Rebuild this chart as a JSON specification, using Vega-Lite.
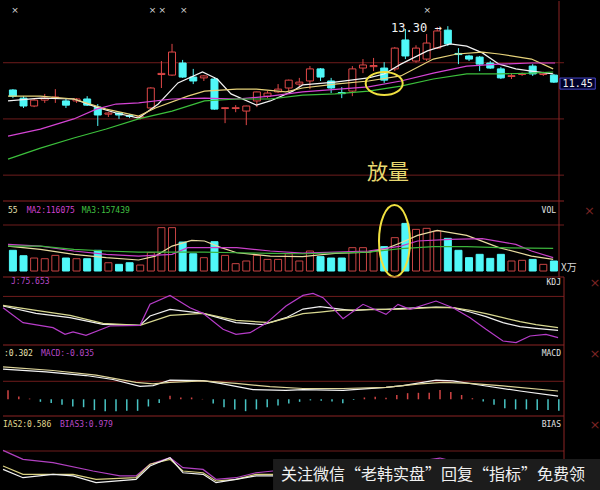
{
"$schema": "https://vega.github.io/schema/vega-lite/v6.json",
"background": "#000000",
"padding": 0,
"spacing": 0,
"bounds": "flush",
"resolve": {"scale": {"color": "independent"}},
"config": {"view": {"stroke": null}},
"datasets": {
"candles": [
{"i":0,"o":11.03,"c":10.81,"h":11.06,"l":10.74,"vol":18.0,"hist":0.25},
{"i":1,"o":10.74,"c":10.46,"h":10.81,"l":10.39,"vol":13.3,"hist":0.08},
{"i":2,"o":10.46,"c":10.67,"h":10.71,"l":10.42,"vol":11.3,"hist":0.02},
{"i":3,"o":10.67,"c":10.74,"h":10.89,"l":10.57,"vol":10.7,"hist":-0.07},
{"i":4,"o":10.74,"c":10.78,"h":11.06,"l":10.57,"vol":13.6,"hist":-0.10},
{"i":5,"o":10.64,"c":10.49,"h":10.71,"l":10.39,"vol":11.3,"hist":-0.15},
{"i":6,"o":10.64,"c":10.71,"h":10.74,"l":10.57,"vol":10.7,"hist":-0.20},
{"i":7,"o":10.71,"c":10.49,"h":10.81,"l":10.46,"vol":10.7,"hist":-0.22},
{"i":8,"o":10.42,"c":10.14,"h":10.53,"l":9.75,"vol":18.0,"hist":-0.30},
{"i":9,"o":10.17,"c":10.21,"h":10.24,"l":10.07,"vol":7.2,"hist":-0.33},
{"i":10,"o":10.21,"c":10.14,"h":10.24,"l":10.00,"vol":5.8,"hist":-0.33},
{"i":11,"o":10.12,"c":10.09,"h":10.17,"l":10.03,"vol":7.2,"hist":-0.32},
{"i":12,"o":10.05,"c":10.08,"h":10.12,"l":9.98,"vol":5.2,"hist":-0.32},
{"i":13,"o":10.39,"c":11.10,"h":11.13,"l":10.35,"vol":16.0,"hist":-0.20},
{"i":14,"o":11.58,"c":11.62,"h":12.06,"l":11.10,"vol":37.7,"hist":-0.10},
{"i":15,"o":11.56,"c":12.38,"h":12.67,"l":11.53,"vol":37.7,"hist":0.10},
{"i":16,"o":11.99,"c":11.49,"h":12.10,"l":11.46,"vol":25.2,"hist":0.05},
{"i":17,"o":11.49,"c":11.35,"h":11.78,"l":11.24,"vol":15.0,"hist":0.05},
{"i":18,"o":11.46,"c":11.53,"h":11.56,"l":11.35,"vol":11.6,"hist":0.01},
{"i":19,"o":11.42,"c":10.35,"h":11.49,"l":10.33,"vol":25.5,"hist":-0.12},
{"i":20,"o":10.37,"c":10.40,"h":10.42,"l":9.85,"vol":13.6,"hist":-0.22},
{"i":21,"o":10.37,"c":10.40,"h":10.49,"l":10.24,"vol":6.4,"hist":-0.28},
{"i":22,"o":10.28,"c":10.46,"h":10.47,"l":9.78,"vol":8.7,"hist":-0.33},
{"i":23,"o":10.64,"c":10.96,"h":10.97,"l":10.42,"vol":13.6,"hist":-0.28},
{"i":24,"o":10.81,"c":10.92,"h":10.99,"l":10.74,"vol":10.1,"hist":-0.22},
{"i":25,"o":10.96,"c":11.06,"h":11.24,"l":10.92,"vol":10.1,"hist":-0.17},
{"i":26,"o":11.10,"c":11.38,"h":11.40,"l":10.99,"vol":15.0,"hist":-0.12},
{"i":27,"o":11.24,"c":11.31,"h":11.46,"l":11.13,"vol":8.7,"hist":-0.07},
{"i":28,"o":11.35,"c":11.78,"h":11.88,"l":11.06,"vol":17.4,"hist":-0.03},
{"i":29,"o":11.78,"c":11.49,"h":11.81,"l":11.35,"vol":12.5,"hist":-0.04},
{"i":30,"o":11.35,"c":11.10,"h":11.46,"l":10.92,"vol":11.3,"hist":-0.06},
{"i":31,"o":10.94,"c":10.90,"h":11.13,"l":10.74,"vol":11.3,"hist":-0.11},
{"i":32,"o":10.99,"c":11.78,"h":11.88,"l":10.81,"vol":20.3,"hist":-0.02},
{"i":33,"o":11.81,"c":11.92,"h":12.13,"l":11.63,"vol":20.3,"hist":0.05},
{"i":34,"o":11.86,"c":11.90,"h":12.17,"l":11.70,"vol":17.4,"hist":0.07},
{"i":35,"o":11.81,"c":11.38,"h":12.02,"l":11.28,"vol":21.2,"hist":0.04},
{"i":36,"o":11.78,"c":12.52,"h":12.56,"l":11.70,"vol":29.0,"hist":0.12},
{"i":37,"o":12.81,"c":12.24,"h":13.20,"l":12.13,"vol":41.4,"hist":0.17},
{"i":38,"o":12.06,"c":12.52,"h":12.62,"l":12.00,"vol":36.2,"hist":0.18},
{"i":39,"o":12.13,"c":12.70,"h":13.02,"l":12.06,"vol":37.1,"hist":0.18},
{"i":40,"o":12.52,"c":13.13,"h":13.27,"l":12.49,"vol":34.8,"hist":0.26},
{"i":41,"o":13.16,"c":12.67,"h":13.30,"l":12.60,"vol":28.4,"hist":0.20},
{"i":42,"o":12.33,"c":12.29,"h":12.52,"l":11.95,"vol":18.0,"hist":0.12},
{"i":43,"o":12.24,"c":12.13,"h":12.28,"l":12.06,"vol":11.6,"hist":0.03},
{"i":44,"o":12.20,"c":11.95,"h":12.24,"l":11.70,"vol":14.5,"hist":-0.06},
{"i":45,"o":11.99,"c":11.81,"h":12.06,"l":11.78,"vol":11.0,"hist":-0.15},
{"i":46,"o":11.78,"c":11.46,"h":11.85,"l":11.42,"vol":14.5,"hist":-0.25},
{"i":47,"o":11.51,"c":11.54,"h":11.63,"l":11.42,"vol":8.7,"hist":-0.28},
{"i":48,"o":11.58,"c":11.60,"h":11.65,"l":11.53,"vol":9.3,"hist":-0.28},
{"i":49,"o":11.88,"c":11.60,"h":11.95,"l":11.53,"vol":10.1,"hist":-0.30},
{"i":50,"o":11.58,"c":11.63,"h":11.68,"l":11.53,"vol":5.8,"hist":-0.30},
{"i":51,"o":11.56,"c":11.31,"h":11.60,"l":11.28,"vol":8.7,"hist":-0.32}
],
"ma": [
{"s":"MA5","i":-0.46,"v":10.64},{"s":"MA5","i":2.59,"v":10.74},{"s":"MA5","i":5.74,"v":10.71},{"s":"MA5","i":7.87,"v":10.42},{"s":"MA5","i":9.72,"v":10.21},{"s":"MA5","i":11.85,"v":10.03},{"s":"MA5","i":13.7,"v":10.53},{"s":"MA5","i":15.56,"v":11.28},{"s":"MA5","i":17.87,"v":11.67},{"s":"MA5","i":19.26,"v":11.42},{"s":"MA5","i":20.56,"v":10.89},{"s":"MA5","i":22.96,"v":10.49},{"s":"MA5","i":24.26,"v":10.64},{"s":"MA5","i":26.39,"v":10.99},{"s":"MA5","i":27.31,"v":11.21},{"s":"MA5","i":30.37,"v":11.31},{"s":"MA5","i":33.52,"v":11.46},{"s":"MA5","i":35.0,"v":11.60},{"s":"MA5","i":36.57,"v":11.95},{"s":"MA5","i":39.07,"v":12.42},{"s":"MA5","i":41.2,"v":12.67},{"s":"MA5","i":42.78,"v":12.59},{"s":"MA5","i":44.26,"v":12.35},{"s":"MA5","i":45.83,"v":11.95},{"s":"MA5","i":47.41,"v":11.78},{"s":"MA5","i":48.89,"v":11.70},{"s":"MA5","i":50.93,"v":11.60},
{"s":"MA10","i":-0.46,"v":10.81},{"s":"MA10","i":2.59,"v":10.81},{"s":"MA10","i":5.74,"v":10.71},{"s":"MA10","i":8.8,"v":10.35},{"s":"MA10","i":11.85,"v":10.10},{"s":"MA10","i":13.43,"v":10.39},{"s":"MA10","i":16.48,"v":10.81},{"s":"MA10","i":18.06,"v":10.99},{"s":"MA10","i":21.11,"v":11.06},{"s":"MA10","i":22.96,"v":11.06},{"s":"MA10","i":25.74,"v":10.96},{"s":"MA10","i":27.31,"v":11.10},{"s":"MA10","i":30.37,"v":11.24},{"s":"MA10","i":33.52,"v":11.35},{"s":"MA10","i":36.57,"v":11.53},{"s":"MA10","i":39.63,"v":12.13},{"s":"MA10","i":41.85,"v":12.31},{"s":"MA10","i":44.26,"v":12.38},{"s":"MA10","i":45.83,"v":12.31},{"s":"MA10","i":48.89,"v":12.13},{"s":"MA10","i":50.93,"v":11.78},
{"s":"MA20","i":-0.46,"v":9.39},{"s":"MA20","i":2.59,"v":9.64},{"s":"MA20","i":5.74,"v":10.0},{"s":"MA20","i":7.87,"v":10.35},{"s":"MA20","i":9.72,"v":10.53},{"s":"MA20","i":11.85,"v":10.57},{"s":"MA20","i":15.0,"v":10.71},{"s":"MA20","i":18.06,"v":10.74},{"s":"MA20","i":21.11,"v":10.71},{"s":"MA20","i":24.26,"v":10.81},{"s":"MA20","i":27.31,"v":10.96},{"s":"MA20","i":33.52,"v":11.14},{"s":"MA20","i":36.57,"v":11.35},{"s":"MA20","i":39.63,"v":11.63},{"s":"MA20","i":42.78,"v":11.88},{"s":"MA20","i":45.83,"v":11.95},{"s":"MA20","i":48.89,"v":11.99},{"s":"MA20","i":51.11,"v":11.99},
{"s":"MA60","i":-0.46,"v":8.57},{"s":"MA60","i":2.59,"v":8.96},{"s":"MA60","i":5.74,"v":9.32},{"s":"MA60","i":8.8,"v":9.64},{"s":"MA60","i":11.85,"v":10.0},{"s":"MA60","i":15.0,"v":10.28},{"s":"MA60","i":18.06,"v":10.64},{"s":"MA60","i":21.11,"v":10.71},{"s":"MA60","i":24.26,"v":10.71},{"s":"MA60","i":27.31,"v":10.85},{"s":"MA60","i":30.37,"v":10.89},{"s":"MA60","i":33.52,"v":10.99},{"s":"MA60","i":36.57,"v":11.17},{"s":"MA60","i":39.63,"v":11.42},{"s":"MA60","i":42.78,"v":11.60},{"s":"MA60","i":45.83,"v":11.60},{"s":"MA60","i":48.89,"v":11.63},{"s":"MA60","i":50.93,"v":11.67}
],
"vma": [
{"s":"V1","i":-0.46,"v":21.7},{"s":"V1","i":2.59,"v":18.8},{"s":"V1","i":5.74,"v":14.5},{"s":"V1","i":8.8,"v":11.6},{"s":"V1","i":11.85,"v":9.6},{"s":"V1","i":13.43,"v":13.0},{"s":"V1","i":15.0,"v":21.7},{"s":"V1","i":16.85,"v":26.6},{"s":"V1","i":18.06,"v":26.1},{"s":"V1","i":19.63,"v":20.3},{"s":"V1","i":21.11,"v":15.9},{"s":"V1","i":24.26,"v":13.0},{"s":"V1","i":27.31,"v":12.6},{"s":"V1","i":30.37,"v":15.4},{"s":"V1","i":33.52,"v":16.5},{"s":"V1","i":35.0,"v":18.8},{"s":"V1","i":36.57,"v":24.6},{"s":"V1","i":38.15,"v":31.0},{"s":"V1","i":40.0,"v":35.4},{"s":"V1","i":42.78,"v":31.0},{"s":"V1","i":45.83,"v":20.3},{"s":"V1","i":48.89,"v":13.0},{"s":"V1","i":50.93,"v":10.1},
{"s":"V2","i":-0.46,"v":23.2},{"s":"V2","i":2.59,"v":21.7},{"s":"V2","i":5.74,"v":17.4},{"s":"V2","i":8.8,"v":14.5},{"s":"V2","i":11.85,"v":13.0},{"s":"V2","i":15.0,"v":14.5},{"s":"V2","i":16.48,"v":20.3},{"s":"V2","i":19.63,"v":20.3},{"s":"V2","i":21.11,"v":20.3},{"s":"V2","i":24.26,"v":17.4},{"s":"V2","i":27.31,"v":15.6},{"s":"V2","i":33.52,"v":17.4},{"s":"V2","i":36.57,"v":21.7},{"s":"V2","i":38.15,"v":26.1},{"s":"V2","i":41.2,"v":27.5},{"s":"V2","i":44.26,"v":28.1},{"s":"V2","i":47.41,"v":23.2},{"s":"V2","i":48.89,"v":17.4},{"s":"V2","i":50.93,"v":11.6},
{"s":"V3","i":-0.46,"v":21.7},{"s":"V3","i":2.59,"v":21.7},{"s":"V3","i":5.74,"v":18.8},{"s":"V3","i":8.8,"v":17.4},{"s":"V3","i":11.85,"v":16.5},{"s":"V3","i":15.0,"v":16.5},{"s":"V3","i":18.06,"v":16.5},{"s":"V3","i":21.11,"v":15.9},{"s":"V3","i":24.26,"v":15.4},{"s":"V3","i":27.31,"v":15.0},{"s":"V3","i":33.52,"v":16.5},{"s":"V3","i":36.57,"v":19.4},{"s":"V3","i":39.63,"v":21.2},{"s":"V3","i":42.78,"v":21.2},{"s":"V3","i":45.83,"v":20.3},{"s":"V3","i":50.93,"v":19.7}
],
"kdj": [
{"s":"K","i":-0.46,"v":75.1},{"s":"K","i":2.59,"v":56.1},{"s":"K","i":5.74,"v":44.9},{"s":"K","i":8.8,"v":27.6},{"s":"K","i":12.22,"v":25},{"s":"K","i":13.15,"v":49.2},{"s":"K","i":15.0,"v":66.5},{"s":"K","i":18.06,"v":56.1},{"s":"K","i":21.11,"v":32},{"s":"K","i":23.61,"v":26.8},{"s":"K","i":25.74,"v":44.9},{"s":"K","i":27.31,"v":67.3},{"s":"K","i":28.89,"v":73.4},{"s":"K","i":30.37,"v":68.2},{"s":"K","i":31.94,"v":63},{"s":"K","i":33.52,"v":66.5},{"s":"K","i":35.0,"v":66.5},{"s":"K","i":36.57,"v":69},{"s":"K","i":39.63,"v":72.6},{"s":"K","i":41.2,"v":70.8},{"s":"K","i":42.78,"v":59.5},{"s":"K","i":44.26,"v":47.5},{"s":"K","i":45.83,"v":32},{"s":"K","i":47.41,"v":21.6},{"s":"K","i":48.89,"v":17.3},{"s":"K","i":50.93,"v":12.1},
{"s":"D","i":-0.46,"v":76.8},{"s":"D","i":2.59,"v":63.9},{"s":"D","i":5.74,"v":50.9},{"s":"D","i":8.8,"v":30},{"s":"D","i":12.22,"v":25},{"s":"D","i":15.0,"v":50.9},{"s":"D","i":18.06,"v":56.1},{"s":"D","i":21.11,"v":38},{"s":"D","i":24.26,"v":32},{"s":"D","i":27.31,"v":55.3},{"s":"D","i":28.89,"v":59.5},{"s":"D","i":30.37,"v":63.9},{"s":"D","i":33.52,"v":65.6},{"s":"D","i":36.57,"v":67.3},{"s":"D","i":39.63,"v":71.6},{"s":"D","i":41.2,"v":70.8},{"s":"D","i":42.78,"v":63.9},{"s":"D","i":44.26,"v":55.3},{"s":"D","i":45.83,"v":44.9},{"s":"D","i":47.41,"v":34.6},{"s":"D","i":48.89,"v":26.8},{"s":"D","i":50.93,"v":19},
{"s":"J","i":-0.46,"v":70.8},{"s":"J","i":1.39,"v":32},{"s":"J","i":4.17,"v":19},{"s":"J","i":5.28,"v":1.7},{"s":"J","i":6.02,"v":7.8},{"s":"J","i":7.22,"v":-0.9},{"s":"J","i":9.44,"v":23.3},{"s":"J","i":12.22,"v":25},{"s":"J","i":13.15,"v":79.5},{"s":"J","i":15.0,"v":102.7},{"s":"J","i":16.85,"v":70.8},{"s":"J","i":18.06,"v":56.1},{"s":"J","i":19.91,"v":14.7},{"s":"J","i":21.11,"v":1.7},{"s":"J","i":22.41,"v":6},{"s":"J","i":23.89,"v":30.2},{"s":"J","i":25.74,"v":75.1},{"s":"J","i":27.31,"v":102.7},{"s":"J","i":28.24,"v":108},{"s":"J","i":29.17,"v":96.7},{"s":"J","i":31.02,"v":42.3},{"s":"J","i":32.87,"v":79.5},{"s":"J","i":35.0,"v":53.5},{"s":"J","i":36.11,"v":79.5},{"s":"J","i":37.22,"v":66.5},{"s":"J","i":39.63,"v":88},{"s":"J","i":41.2,"v":70.8},{"s":"J","i":42.78,"v":44.9},{"s":"J","i":44.26,"v":14.7},{"s":"J","i":45.83,"v":-15.5},{"s":"J","i":47.04,"v":-19.8},{"s":"J","i":48.33,"v":-2.6},{"s":"J","i":49.81,"v":1.7},{"s":"J","i":50.93,"v":-6.9}
],
"macdl": [
{"s":"DIF","i":-0.46,"v":0.84},{"s":"DIF","i":3.52,"v":0.76},{"s":"DIF","i":7.22,"v":0.66},{"s":"DIF","i":9.72,"v":0.55},{"s":"DIF","i":12.22,"v":0.36},{"s":"DIF","i":13.43,"v":0.38},{"s":"DIF","i":15.0,"v":0.53},{"s":"DIF","i":18.06,"v":0.52},{"s":"DIF","i":19.63,"v":0.44},{"s":"DIF","i":22.69,"v":0.27},{"s":"DIF","i":25.74,"v":0.25},{"s":"DIF","i":27.31,"v":0.27},{"s":"DIF","i":31.02,"v":0.25},{"s":"DIF","i":35.0,"v":0.33},{"s":"DIF","i":36.57,"v":0.38},{"s":"DIF","i":39.63,"v":0.53},{"s":"DIF","i":41.2,"v":0.51},{"s":"DIF","i":44.26,"v":0.37},{"s":"DIF","i":47.41,"v":0.23},{"s":"DIF","i":50.93,"v":0.09},
{"s":"DEA","i":-0.46,"v":0.90},{"s":"DEA","i":4.17,"v":0.80},{"s":"DEA","i":8.15,"v":0.67},{"s":"DEA","i":11.85,"v":0.47},{"s":"DEA","i":13.43,"v":0.43},{"s":"DEA","i":15.0,"v":0.47},{"s":"DEA","i":18.06,"v":0.51},{"s":"DEA","i":21.11,"v":0.44},{"s":"DEA","i":24.26,"v":0.35},{"s":"DEA","i":27.31,"v":0.30},{"s":"DEA","i":31.02,"v":0.30},{"s":"DEA","i":35.0,"v":0.33},{"s":"DEA","i":38.15,"v":0.43},{"s":"DEA","i":40.28,"v":0.47},{"s":"DEA","i":42.78,"v":0.44},{"s":"DEA","i":45.83,"v":0.37},{"s":"DEA","i":50.93,"v":0.23}
],
"bias": [
{"s":"B3","i":-0.46,"v":20.4},{"s":"B3","i":1.39,"v":14.8},{"s":"B3","i":4.17,"v":12.7},{"s":"B3","i":7.87,"v":7.5},{"s":"B3","i":10.37,"v":4.4},{"s":"B3","i":11.85,"v":4.4},{"s":"B3","i":13.15,"v":11.7},{"s":"B3","i":15.0,"v":15.8},{"s":"B3","i":16.2,"v":9.6},{"s":"B3","i":18.06,"v":8.5},{"s":"B3","i":19.26,"v":2.3},{"s":"B3","i":21.11,"v":3.3},{"s":"B3","i":22.96,"v":6.4},{"s":"B3","i":24.54,"v":7.5},{"s":"B3","i":27.31,"v":8},{"s":"B3","i":31.94,"v":6},{"s":"B3","i":35.0,"v":9},{"s":"B3","i":37.5,"v":13},{"s":"B3","i":40.0,"v":15.6},{"s":"B3","i":42.13,"v":12},{"s":"B3","i":45.83,"v":5},{"s":"B3","i":50.93,"v":2},
{"s":"B2","i":-0.46,"v":10.6},{"s":"B2","i":1.39,"v":5.4},{"s":"B2","i":4.17,"v":5.4},{"s":"B2","i":6.02,"v":5.4},{"s":"B2","i":8.15,"v":2.3},{"s":"B2","i":11.85,"v":3.3},{"s":"B2","i":13.15,"v":11.7},{"s":"B2","i":15.0,"v":14.8},{"s":"B2","i":16.2,"v":7.5},{"s":"B2","i":18.06,"v":6.4},{"s":"B2","i":19.26,"v":1.25},{"s":"B2","i":21.11,"v":2.3},{"s":"B2","i":22.96,"v":5.4},{"s":"B2","i":24.54,"v":5.4},{"s":"B2","i":27.31,"v":6},{"s":"B2","i":31.94,"v":4},{"s":"B2","i":35.0,"v":7},{"s":"B2","i":40.0,"v":13},{"s":"B2","i":42.13,"v":10},{"s":"B2","i":45.83,"v":3},{"s":"B2","i":50.93,"v":1},
{"s":"B1","i":-0.46,"v":8.5},{"s":"B1","i":1.39,"v":3.3},{"s":"B1","i":4.17,"v":5.4},{"s":"B1","i":6.02,"v":4.4},{"s":"B1","i":8.15,"v":0.2},{"s":"B1","i":11.85,"v":2.3},{"s":"B1","i":13.15,"v":10.6},{"s":"B1","i":15.0,"v":15.8},{"s":"B1","i":16.2,"v":6.4},{"s":"B1","i":18.06,"v":5.4},{"s":"B1","i":19.26,"v":0.2},{"s":"B1","i":21.11,"v":2.3},{"s":"B1","i":22.96,"v":4.4},{"s":"B1","i":24.54,"v":4.4},{"s":"B1","i":27.31,"v":5},{"s":"B1","i":31.94,"v":3},{"s":"B1","i":35.0,"v":7},{"s":"B1","i":40.0,"v":12},{"s":"B1","i":42.13,"v":8},{"s":"B1","i":45.83,"v":2},{"s":"B1","i":50.93,"v":0}
]
},
"vconcat": [
{
"width": 561, "height": 200,
"layer": [
{"data": {"values": [{"g":8},{"g":10},{"g":12}]}, "mark": {"type":"rule","color":"#6e1c1c"},
 "encoding": {"y": {"field":"g","type":"quantitative","scale":{"domain":[7.08,14.196],"nice":false,"zero":false},"axis":null}}},
{"data": {"values": [{}]}, "mark": {"type":"rule","color":"#8c2424"},
 "encoding": {"x": {"datum":51.48,"type":"quantitative","scale":{"domain":[-0.463,51.48],"nice":false,"zero":false},"axis":null}}},
{"data": {"name":"candles"}, "mark": {"type":"rule","strokeWidth":1},
 "encoding": {
  "x": {"field":"i","type":"quantitative","scale":{"domain":[-0.463,51.48],"nice":false,"zero":false},"axis":null},
  "y": {"field":"l","type":"quantitative","scale":{"domain":[7.08,14.196],"nice":false,"zero":false},
        "axis":{"orient":"right","offset":38,"zindex":0,"values":[8,10,12],"domainColor":"#8c2424","ticks":false,"labelAlign":"right","labelBaseline":"middle","labelPadding":-4,"labelColor":"#c04848","labelFont":"DejaVu Sans Mono","labelFontSize":10,"labelOverlap":false,"labelBound":false,"labelFlush":false,"title":null,"grid":false}},
  "y2": {"field":"h"},
  "color": {"condition":{"test":"datum.c >= datum.o","value":"#e04848"},"value":"#50f8f8"}}},
{"data": {"name":"candles"}, "mark": {"type":"bar","width":7,"strokeWidth":1},
 "encoding": {
  "x": {"field":"i","type":"quantitative","scale":{"domain":[-0.463,51.48],"nice":false,"zero":false},"axis":null},
  "y": {"field":"o","type":"quantitative","scale":{"domain":[7.08,14.196],"nice":false,"zero":false},"axis":null},
  "y2": {"field":"c"},
  "fill": {"condition":{"test":"datum.c >= datum.o","value":"#000000"},"value":"#50f8f8"},
  "stroke": {"condition":{"test":"datum.c >= datum.o","value":"#e04848"},"value":"#50f8f8"}}},
{"data": {"name":"ma"}, "mark": {"type":"line","strokeWidth":1.2},
 "encoding": {
  "x": {"field":"i","type":"quantitative","scale":{"domain":[-0.463,51.48],"nice":false,"zero":false},"axis":null},
  "y": {"field":"v","type":"quantitative","scale":{"domain":[7.08,14.196],"nice":false,"zero":false},"axis":null},
  "color": {"field":"s","type":"nominal","scale":{"domain":["MA5","MA10","MA20","MA60"],"range":["#f2f2f2","#e6d27a","#d444d4","#3cc03c"]},"legend":null}}},
{"data": {"values": [{"i":0.19,"p":13.875},{"i":13.15,"p":13.875},{"i":14.07,"p":13.875},{"i":16.1,"p":13.875},{"i":39.07,"p":13.875}]},
 "mark": {"type":"text","text":"×","fontSize":9,"color":"#d8d8d8","align":"center","baseline":"middle","font":"DejaVu Sans"},
 "encoding": {
  "x": {"field":"i","type":"quantitative","scale":{"domain":[-0.463,51.48],"nice":false,"zero":false},"axis":null},
  "y": {"field":"p","type":"quantitative","scale":{"domain":[7.08,14.196],"nice":false,"zero":false},"axis":null}}},
{"data": {"values": [{"i":35.65,"p":13.235,"t":"13.30 →"}]},
 "mark": {"type":"text","fontSize":12,"color":"#f4f4f4","align":"left","baseline":"middle","font":"DejaVu Sans Mono"},
 "encoding": {
  "x": {"field":"i","type":"quantitative","scale":{"domain":[-0.463,51.48],"nice":false,"zero":false},"axis":null},
  "y": {"field":"p","type":"quantitative","scale":{"domain":[7.08,14.196],"nice":false,"zero":false},"axis":null},
  "text": {"field":"t"}}},
{"data": {"values": [{"i":35.37,"p":8.07,"t":"放量"}]},
 "mark": {"type":"text","fontSize":21,"color":"#e8d870","align":"center","baseline":"middle","font":"Noto Sans CJK SC"},
 "encoding": {
  "x": {"field":"i","type":"quantitative","scale":{"domain":[-0.463,51.48],"nice":false,"zero":false},"axis":null},
  "y": {"field":"p","type":"quantitative","scale":{"domain":[7.08,14.196],"nice":false,"zero":false},"axis":null},
  "text": {"field":"t"}}},
{"data": {"values": [{"i":35.0,"p":11.26}]},
 "mark": {"type":"point","shape":"M-1,0A1,0.62 0 1,1 1,0A1,0.62 0 1,1 -1,0Z","size":1369,"filled":false,"stroke":"#f0e040","strokeWidth":2,"opacity":1},
 "encoding": {
  "x": {"field":"i","type":"quantitative","scale":{"domain":[-0.463,51.48],"nice":false,"zero":false},"axis":null},
  "y": {"field":"p","type":"quantitative","scale":{"domain":[7.08,14.196],"nice":false,"zero":false},"axis":null}}},
{"data": {"values": [{"i":51.57,"i2":54.9,"p":11.455,"p2":11.06}]},
 "mark": {"type":"rect","fill":"#000028","stroke":"#4848c8","strokeWidth":1},
 "encoding": {
  "x": {"field":"i","type":"quantitative","scale":{"domain":[-0.463,51.48],"nice":false,"zero":false},"axis":null},
  "x2": {"field":"i2"},
  "y": {"field":"p","type":"quantitative","scale":{"domain":[7.08,14.196],"nice":false,"zero":false},"axis":null},
  "y2": {"field":"p2"}}},
{"data": {"values": [{"i":53.24,"p":11.26,"t":"11.45"}]},
 "mark": {"type":"text","fontSize":10,"color":"#f0f0f0","align":"center","baseline":"middle","font":"DejaVu Sans Mono"},
 "encoding": {
  "x": {"field":"i","type":"quantitative","scale":{"domain":[-0.463,51.48],"nice":false,"zero":false},"axis":null},
  "y": {"field":"p","type":"quantitative","scale":{"domain":[7.08,14.196],"nice":false,"zero":false},"axis":null},
  "text": {"field":"t"}}}
]
},
{
"width": 561, "height": 76,
"layer": [
{"data": {"values": [{"g":40}]}, "mark": {"type":"rule","color":"#6e1c1c"},
 "encoding": {"y": {"field":"g","type":"quantitative","scale":{"domain":[-5.2,60.87],"nice":false,"zero":false},"axis":null}}},
{"data": {"values": [{"g":60.87}]}, "mark": {"type":"rule","color":"#8c2424"},
 "encoding": {"y": {"field":"g","type":"quantitative","scale":{"domain":[-5.2,60.87],"nice":false,"zero":false},"axis":null}}},
{"data": {"values": [{}]}, "mark": {"type":"rule","color":"#8c2424"},
 "encoding": {"x": {"datum":51.48,"type":"quantitative","scale":{"domain":[-0.463,51.48],"nice":false,"zero":false},"axis":null}}},
{"data": {"name":"candles"}, "mark": {"type":"bar","width":7,"strokeWidth":1},
 "encoding": {
  "x": {"field":"i","type":"quantitative","scale":{"domain":[-0.463,51.48],"nice":false,"zero":false},"axis":null},
  "y": {"field":"vol","type":"quantitative","scale":{"domain":[-5.2,60.87],"nice":false,"zero":false},
        "axis":{"orient":"right","offset":38,"zindex":0,"values":[20,40],"domainColor":"#8c2424","ticks":false,"labelAlign":"right","labelBaseline":"middle","labelPadding":-4,"labelColor":"#c04848","labelFont":"DejaVu Sans Mono","labelFontSize":10,"labelOverlap":false,"labelBound":false,"labelFlush":false,"title":null,"grid":false}},
  "y2": {"datum":0},
  "fill": {"condition":{"test":"datum.c >= datum.o","value":"#000000"},"value":"#50f8f8"},
  "stroke": {"condition":{"test":"datum.c >= datum.o","value":"#c84444"},"value":"#50f8f8"}}},
{"data": {"name":"vma"}, "mark": {"type":"line","strokeWidth":1.2},
 "encoding": {
  "x": {"field":"i","type":"quantitative","scale":{"domain":[-0.463,51.48],"nice":false,"zero":false},"axis":null},
  "y": {"field":"v","type":"quantitative","scale":{"domain":[-5.2,60.87],"nice":false,"zero":false},"axis":null},
  "color": {"field":"s","type":"nominal","scale":{"domain":["V1","V2","V3"],"range":["#e8dca0","#c840c8","#3cb43c"]},"legend":null}}},
{"data": {"values": [{"i":-0.46,"v":52.17,"t":"55"}]},
 "mark": {"type":"text","fontSize":8,"color":"#e8e0b0","align":"left","baseline":"middle","font":"DejaVu Sans Mono"},
 "encoding": {"x": {"field":"i","type":"quantitative","scale":{"domain":[-0.463,51.48],"nice":false,"zero":false},"axis":null},
  "y": {"field":"v","type":"quantitative","scale":{"domain":[-5.2,60.87],"nice":false,"zero":false},"axis":null},"text": {"field":"t"}}},
{"data": {"values": [{"i":1.3,"v":52.17,"t":"MA2:116075"}]},
 "mark": {"type":"text","fontSize":8,"color":"#d040d0","align":"left","baseline":"middle","font":"DejaVu Sans Mono"},
 "encoding": {"x": {"field":"i","type":"quantitative","scale":{"domain":[-0.463,51.48],"nice":false,"zero":false},"axis":null},
  "y": {"field":"v","type":"quantitative","scale":{"domain":[-5.2,60.87],"nice":false,"zero":false},"axis":null},"text": {"field":"t"}}},
{"data": {"values": [{"i":6.48,"v":52.17,"t":"MA3:157439"}]},
 "mark": {"type":"text","fontSize":8,"color":"#40c040","align":"left","baseline":"middle","font":"DejaVu Sans Mono"},
 "encoding": {"x": {"field":"i","type":"quantitative","scale":{"domain":[-0.463,51.48],"nice":false,"zero":false},"axis":null},
  "y": {"field":"v","type":"quantitative","scale":{"domain":[-5.2,60.87],"nice":false,"zero":false},"axis":null},"text": {"field":"t"}}},
{"data": {"values": [{"i":51.2,"v":52.17,"t":"VOL"}]},
 "mark": {"type":"text","fontSize":8,"color":"#e0e0e0","align":"right","baseline":"middle","font":"DejaVu Sans Mono"},
 "encoding": {"x": {"field":"i","type":"quantitative","scale":{"domain":[-0.463,51.48],"nice":false,"zero":false},"axis":null},
  "y": {"field":"v","type":"quantitative","scale":{"domain":[-5.2,60.87],"nice":false,"zero":false},"axis":null},"text": {"field":"t"}}},
{"data": {"values": [{"i":54.35,"v":52.17,"t":"×"}]},
 "mark": {"type":"text","fontSize":13,"color":"#7a2424","align":"center","baseline":"middle","font":"DejaVu Sans"},
 "encoding": {"x": {"field":"i","type":"quantitative","scale":{"domain":[-0.463,51.48],"nice":false,"zero":false},"axis":null},
  "y": {"field":"v","type":"quantitative","scale":{"domain":[-5.2,60.87],"nice":false,"zero":false},"axis":null},"text": {"field":"t"}}},
{"data": {"values": [{"i":51.67,"v":2.9,"t":"X万"}]},
 "mark": {"type":"text","fontSize":10,"color":"#d8d8d8","align":"left","baseline":"middle","font":"Noto Sans CJK SC"},
 "encoding": {"x": {"field":"i","type":"quantitative","scale":{"domain":[-0.463,51.48],"nice":false,"zero":false},"axis":null},
  "y": {"field":"v","type":"quantitative","scale":{"domain":[-5.2,60.87],"nice":false,"zero":false},"axis":null},"text": {"field":"t"}}},
{"data": {"values": [{"i":35.97,"v":26.1}]},
 "mark": {"type":"point","shape":"M0,-1A0.43,1 0 1,1 0,1A0.43,1 0 1,1 0,-1Z","size":5184,"filled":false,"stroke":"#f0e040","strokeWidth":2,"opacity":1},
 "encoding": {"x": {"field":"i","type":"quantitative","scale":{"domain":[-0.463,51.48],"nice":false,"zero":false},"axis":null},
  "y": {"field":"v","type":"quantitative","scale":{"domain":[-5.2,60.87],"nice":false,"zero":false},"axis":null}}}
]
},
{
"width": 561, "height": 68,
"layer": [
{"data": {"values": [{"g":100}]}, "mark": {"type":"rule","color":"#6e1c1c"},
 "encoding": {"y": {"field":"g","type":"quantitative","scale":{"domain":[-25.9,150.3],"nice":false,"zero":false},"axis":null}}},
{"data": {"values": [{"g":150.3}]}, "mark": {"type":"rule","color":"#8c2424"},
 "encoding": {"y": {"field":"g","type":"quantitative","scale":{"domain":[-25.9,150.3],"nice":false,"zero":false},"axis":null}}},
{"data": {"values": [{}]}, "mark": {"type":"rule","color":"#8c2424"},
 "encoding": {"x": {"datum":51.48,"type":"quantitative","scale":{"domain":[-0.463,51.48],"nice":false,"zero":false},"axis":null}}},
{"data": {"name":"kdj"}, "mark": {"type":"line","strokeWidth":1.2},
 "encoding": {
  "x": {"field":"i","type":"quantitative","scale":{"domain":[-0.463,51.48],"nice":false,"zero":false},"axis":null},
  "y": {"field":"v","type":"quantitative","scale":{"domain":[-25.9,150.3],"nice":false,"zero":false},
        "axis":{"orient":"right","offset":38,"zindex":0,"values":[0,50,100],"domainColor":"#8c2424","ticks":false,"labelAlign":"right","labelBaseline":"middle","labelPadding":-4,"labelColor":"#c04848","labelFont":"DejaVu Sans Mono","labelFontSize":10,"labelOverlap":false,"labelBound":false,"labelFlush":false,"title":null,"grid":false}},
  "color": {"field":"s","type":"nominal","scale":{"domain":["K","D","J"],"range":["#f0f0f0","#d8d890","#b63cc8"]},"legend":null}}},
{"data": {"values": [{"i":0.28,"v":137.3,"t":"J:75.653"}]},
 "mark": {"type":"text","fontSize":8,"color":"#b848c8","align":"left","baseline":"middle","font":"DejaVu Sans Mono"},
 "encoding": {"x": {"field":"i","type":"quantitative","scale":{"domain":[-0.463,51.48],"nice":false,"zero":false},"axis":null},
  "y": {"field":"v","type":"quantitative","scale":{"domain":[-25.9,150.3],"nice":false,"zero":false},"axis":null},"text": {"field":"t"}}},
{"data": {"values": [{"i":51.2,"v":134.7,"t":"KDJ"}]},
 "mark": {"type":"text","fontSize":8,"color":"#e0e0e0","align":"right","baseline":"middle","font":"DejaVu Sans Mono"},
 "encoding": {"x": {"field":"i","type":"quantitative","scale":{"domain":[-0.463,51.48],"nice":false,"zero":false},"axis":null},
  "y": {"field":"v","type":"quantitative","scale":{"domain":[-25.9,150.3],"nice":false,"zero":false},"axis":null},"text": {"field":"t"}}},
{"data": {"values": [{"i":54.35,"v":134.7,"t":"×"}]},
 "mark": {"type":"text","fontSize":13,"color":"#7a2424","align":"center","baseline":"middle","font":"DejaVu Sans"},
 "encoding": {"x": {"field":"i","type":"quantitative","scale":{"domain":[-0.463,51.48],"nice":false,"zero":false},"axis":null},
  "y": {"field":"v","type":"quantitative","scale":{"domain":[-25.9,150.3],"nice":false,"zero":false},"axis":null},"text": {"field":"t"}}}
]
},
{
"width": 561, "height": 71,
"layer": [
{"data": {"values": [{"g":0.5}]}, "mark": {"type":"rule","color":"#6e1c1c"},
 "encoding": {"y": {"field":"g","type":"quantitative","scale":{"domain":[-0.464,1.508],"nice":false,"zero":false},"axis":null}}},
{"data": {"values": [{"g":1.508}]}, "mark": {"type":"rule","color":"#8c2424"},
 "encoding": {"y": {"field":"g","type":"quantitative","scale":{"domain":[-0.464,1.508],"nice":false,"zero":false},"axis":null}}},
{"data": {"values": [{}]}, "mark": {"type":"rule","color":"#8c2424"},
 "encoding": {"x": {"datum":51.48,"type":"quantitative","scale":{"domain":[-0.463,51.48],"nice":false,"zero":false},"axis":null}}},
{"data": {"name":"candles"}, "mark": {"type":"rule","strokeWidth":1.5},
 "encoding": {
  "x": {"field":"i","type":"quantitative","scale":{"domain":[-0.463,51.48],"nice":false,"zero":false},"axis":null},
  "y": {"field":"hist","type":"quantitative","scale":{"domain":[-0.464,1.508],"nice":false,"zero":false},
        "axis":{"orient":"right","offset":38,"zindex":0,"values":[0,0.5],"format":".1f","domainColor":"#8c2424","ticks":false,"labelAlign":"right","labelBaseline":"middle","labelPadding":-4,"labelColor":"#c04848","labelFont":"DejaVu Sans Mono","labelFontSize":10,"labelOverlap":false,"labelBound":false,"labelFlush":false,"title":null,"grid":false}},
  "y2": {"datum":0},
  "color": {"condition":{"test":"datum.hist > 0","value":"#d04444"},"value":"#48c4c4"}}},
{"data": {"name":"macdl"}, "mark": {"type":"line","strokeWidth":1.2},
 "encoding": {
  "x": {"field":"i","type":"quantitative","scale":{"domain":[-0.463,51.48],"nice":false,"zero":false},"axis":null},
  "y": {"field":"v","type":"quantitative","scale":{"domain":[-0.464,1.508],"nice":false,"zero":false},"axis":null},
  "color": {"field":"s","type":"nominal","scale":{"domain":["DIF","DEA"],"range":["#f4f4f4","#ddd49a"]},"legend":null}}},
{"data": {"values": [{"i":-0.37,"v":1.267,"t":":0.302"}]},
 "mark": {"type":"text","fontSize":8,"color":"#e8e0b0","align":"left","baseline":"middle","font":"DejaVu Sans Mono"},
 "encoding": {"x": {"field":"i","type":"quantitative","scale":{"domain":[-0.463,51.48],"nice":false,"zero":false},"axis":null},
  "y": {"field":"v","type":"quantitative","scale":{"domain":[-0.464,1.508],"nice":false,"zero":false},"axis":null},"text": {"field":"t"}}},
{"data": {"values": [{"i":3.06,"v":1.267,"t":"MACD:-0.035"}]},
 "mark": {"type":"text","fontSize":8,"color":"#b848c8","align":"left","baseline":"middle","font":"DejaVu Sans Mono"},
 "encoding": {"x": {"field":"i","type":"quantitative","scale":{"domain":[-0.463,51.48],"nice":false,"zero":false},"axis":null},
  "y": {"field":"v","type":"quantitative","scale":{"domain":[-0.464,1.508],"nice":false,"zero":false},"axis":null},"text": {"field":"t"}}},
{"data": {"values": [{"i":51.2,"v":1.267,"t":"MACD"}]},
 "mark": {"type":"text","fontSize":8,"color":"#e0e0e0","align":"right","baseline":"middle","font":"DejaVu Sans Mono"},
 "encoding": {"x": {"field":"i","type":"quantitative","scale":{"domain":[-0.463,51.48],"nice":false,"zero":false},"axis":null},
  "y": {"field":"v","type":"quantitative","scale":{"domain":[-0.464,1.508],"nice":false,"zero":false},"axis":null},"text": {"field":"t"}}},
{"data": {"values": [{"i":54.35,"v":1.267,"t":"×"}]},
 "mark": {"type":"text","fontSize":13,"color":"#7a2424","align":"center","baseline":"middle","font":"DejaVu Sans"},
 "encoding": {"x": {"field":"i","type":"quantitative","scale":{"domain":[-0.463,51.48],"nice":false,"zero":false},"axis":null},
  "y": {"field":"v","type":"quantitative","scale":{"domain":[-0.464,1.508],"nice":false,"zero":false},"axis":null},"text": {"field":"t"}}}
]
},
{
"width": 561, "height": 75,
"layer": [
{"data": {"values": [{"g":20}]}, "mark": {"type":"rule","color":"#6e1c1c"},
 "encoding": {"y": {"field":"g","type":"quantitative","scale":{"domain":[-5,41.875],"nice":false,"zero":false},"axis":null}}},
{"data": {"values": [{"g":41.875}]}, "mark": {"type":"rule","color":"#8c2424"},
 "encoding": {"y": {"field":"g","type":"quantitative","scale":{"domain":[-5,41.875],"nice":false,"zero":false},"axis":null}}},
{"data": {"values": [{}]}, "mark": {"type":"rule","color":"#8c2424"},
 "encoding": {"x": {"datum":51.48,"type":"quantitative","scale":{"domain":[-0.463,51.48],"nice":false,"zero":false},"axis":null}}},
{"data": {"name":"bias"}, "mark": {"type":"line","strokeWidth":1.2},
 "encoding": {
  "x": {"field":"i","type":"quantitative","scale":{"domain":[-0.463,51.48],"nice":false,"zero":false},"axis":null},
  "y": {"field":"v","type":"quantitative","scale":{"domain":[-5,41.875],"nice":false,"zero":false},
        "axis":{"orient":"right","offset":38,"zindex":0,"values":[0,20],"domainColor":"#8c2424","ticks":false,"labelAlign":"right","labelBaseline":"middle","labelPadding":-4,"labelColor":"#c04848","labelFont":"DejaVu Sans Mono","labelFontSize":10,"labelOverlap":false,"labelBound":false,"labelFlush":false,"title":null,"grid":false}},
  "color": {"field":"s","type":"nominal","scale":{"domain":["B1","B2","B3"],"range":["#f0f0f0","#d8d080","#b040c0"]},"legend":null}}},
{"data": {"values": [{"i":-0.46,"v":36.25,"t":"IAS2:0.586"}]},
 "mark": {"type":"text","fontSize":8,"color":"#e0d890","align":"left","baseline":"middle","font":"DejaVu Sans Mono"},
 "encoding": {"x": {"field":"i","type":"quantitative","scale":{"domain":[-0.463,51.48],"nice":false,"zero":false},"axis":null},
  "y": {"field":"v","type":"quantitative","scale":{"domain":[-5,41.875],"nice":false,"zero":false},"axis":null},"text": {"field":"t"}}},
{"data": {"values": [{"i":4.81,"v":36.25,"t":"BIAS3:0.979"}]},
 "mark": {"type":"text","fontSize":8,"color":"#b848c8","align":"left","baseline":"middle","font":"DejaVu Sans Mono"},
 "encoding": {"x": {"field":"i","type":"quantitative","scale":{"domain":[-0.463,51.48],"nice":false,"zero":false},"axis":null},
  "y": {"field":"v","type":"quantitative","scale":{"domain":[-5,41.875],"nice":false,"zero":false},"axis":null},"text": {"field":"t"}}},
{"data": {"values": [{"i":51.2,"v":36.25,"t":"BIAS"}]},
 "mark": {"type":"text","fontSize":8,"color":"#e0e0e0","align":"right","baseline":"middle","font":"DejaVu Sans Mono"},
 "encoding": {"x": {"field":"i","type":"quantitative","scale":{"domain":[-0.463,51.48],"nice":false,"zero":false},"axis":null},
  "y": {"field":"v","type":"quantitative","scale":{"domain":[-5,41.875],"nice":false,"zero":false},"axis":null},"text": {"field":"t"}}},
{"data": {"values": [{"i":54.35,"v":36.25,"t":"×"}]},
 "mark": {"type":"text","fontSize":13,"color":"#7a2424","align":"center","baseline":"middle","font":"DejaVu Sans"},
 "encoding": {"x": {"field":"i","type":"quantitative","scale":{"domain":[-0.463,51.48],"nice":false,"zero":false},"axis":null},
  "y": {"field":"v","type":"quantitative","scale":{"domain":[-5,41.875],"nice":false,"zero":false},"axis":null},"text": {"field":"t"}}},
{"data": {"values": [{"i":24.54,"i2":55.3,"v":15.0,"v2":-5}]},
 "mark": {"type":"rect","fill":"#1c1c1c"},
 "encoding": {"x": {"field":"i","type":"quantitative","scale":{"domain":[-0.463,51.48],"nice":false,"zero":false},"axis":null},
  "x2": {"field":"i2"},
  "y": {"field":"v","type":"quantitative","scale":{"domain":[-5,41.875],"nice":false,"zero":false},"axis":null},
  "y2": {"field":"v2"}}},
{"data": {"values": [{"i":25.28,"v":5.0,"t":"关注微信“老韩实盘”回复“指标”免费领"}]},
 "mark": {"type":"text","fontSize":16,"color":"#f0f0f0","align":"left","baseline":"middle","font":"Noto Sans CJK SC"},
 "encoding": {"x": {"field":"i","type":"quantitative","scale":{"domain":[-0.463,51.48],"nice":false,"zero":false},"axis":null},
  "y": {"field":"v","type":"quantitative","scale":{"domain":[-5,41.875],"nice":false,"zero":false},"axis":null},"text": {"field":"t"}}}
]
}
]
}
